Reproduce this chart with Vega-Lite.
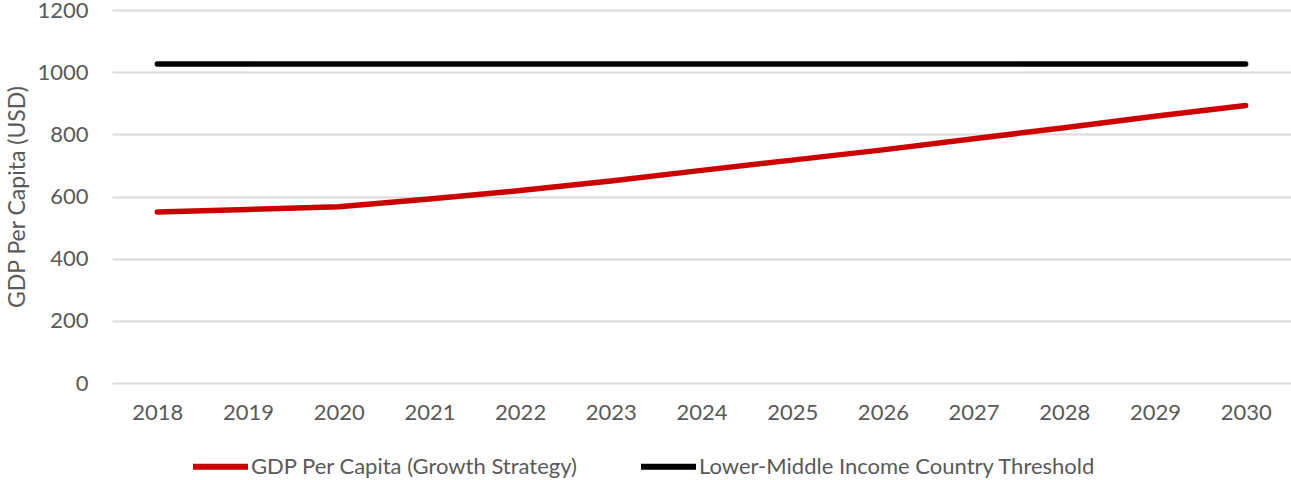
{
  "$schema": "https://vega.github.io/schema/vega-lite/v6.json",
  "autosize": "none",
  "width": 1179,
  "height": 373,
  "padding": {"left": 112, "top": 10, "right": 0, "bottom": 97},
  "background": "white",
  "config": {
    "view": {"stroke": null},
    "font": "Lato",
    "axis": {"labelColor": "#595959", "titleColor": "#595959", "labelFont": "Lato", "titleFont": "Lato"}
  },
  "data": {
    "values": [
      {"year": "2018", "series": "GDP Per Capita (Growth Strategy)", "value": 550},
      {"year": "2019", "series": "GDP Per Capita (Growth Strategy)", "value": 558},
      {"year": "2020", "series": "GDP Per Capita (Growth Strategy)", "value": 567},
      {"year": "2021", "series": "GDP Per Capita (Growth Strategy)", "value": 592},
      {"year": "2022", "series": "GDP Per Capita (Growth Strategy)", "value": 619},
      {"year": "2023", "series": "GDP Per Capita (Growth Strategy)", "value": 650},
      {"year": "2024", "series": "GDP Per Capita (Growth Strategy)", "value": 684},
      {"year": "2025", "series": "GDP Per Capita (Growth Strategy)", "value": 717},
      {"year": "2026", "series": "GDP Per Capita (Growth Strategy)", "value": 750},
      {"year": "2027", "series": "GDP Per Capita (Growth Strategy)", "value": 786},
      {"year": "2028", "series": "GDP Per Capita (Growth Strategy)", "value": 821},
      {"year": "2029", "series": "GDP Per Capita (Growth Strategy)", "value": 858},
      {"year": "2030", "series": "GDP Per Capita (Growth Strategy)", "value": 893},
      {"year": "2018", "series": "Lower-Middle Income Country Threshold", "value": 1026},
      {"year": "2019", "series": "Lower-Middle Income Country Threshold", "value": 1026},
      {"year": "2020", "series": "Lower-Middle Income Country Threshold", "value": 1026},
      {"year": "2021", "series": "Lower-Middle Income Country Threshold", "value": 1026},
      {"year": "2022", "series": "Lower-Middle Income Country Threshold", "value": 1026},
      {"year": "2023", "series": "Lower-Middle Income Country Threshold", "value": 1026},
      {"year": "2024", "series": "Lower-Middle Income Country Threshold", "value": 1026},
      {"year": "2025", "series": "Lower-Middle Income Country Threshold", "value": 1026},
      {"year": "2026", "series": "Lower-Middle Income Country Threshold", "value": 1026},
      {"year": "2027", "series": "Lower-Middle Income Country Threshold", "value": 1026},
      {"year": "2028", "series": "Lower-Middle Income Country Threshold", "value": 1026},
      {"year": "2029", "series": "Lower-Middle Income Country Threshold", "value": 1026},
      {"year": "2030", "series": "Lower-Middle Income Country Threshold", "value": 1026}
    ]
  },
  "mark": {"type": "line", "strokeWidth": 5.5, "strokeCap": "round", "strokeJoin": "round"},
  "encoding": {
    "x": {
      "field": "year", "type": "ordinal",
      "scale": {"type": "point", "padding": 0.5},
      "axis": {"title": null, "labelAngle": 0, "labelFontSize": 22, "labelPadding": 19, "domain": false, "ticks": false, "grid": false}
    },
    "y": {
      "field": "value", "type": "quantitative",
      "scale": {"domain": [0, 1200], "nice": false},
      "axis": {
        "title": "GDP Per Capita (USD)", "titleFontSize": 23, "titleFontWeight": "normal", "titlePadding": 7,
        "values": [0, 200, 400, 600, 800, 1000, 1200], "format": "d",
        "labelFontSize": 22, "labelPadding": 24, "domain": false, "ticks": false,
        "gridColor": "#d9d9d9", "gridWidth": 2
      }
    },
    "color": {
      "field": "series", "type": "nominal",
      "scale": {"domain": ["GDP Per Capita (Growth Strategy)", "Lower-Middle Income Country Threshold"], "range": ["#cc0000", "#000000"]},
      "legend": {
        "title": null, "orient": "none", "direction": "horizontal", "legendX": 78, "legendY": 426,
        "symbolType": "stroke", "symbolSize": 3025, "symbolStrokeWidth": 6,
        "labelFontSize": 22, "labelColor": "#595959", "labelFont": "Lato", "labelOffset": 0, "columnPadding": 50, "labelLimit": 600
      }
    }
  }
}
